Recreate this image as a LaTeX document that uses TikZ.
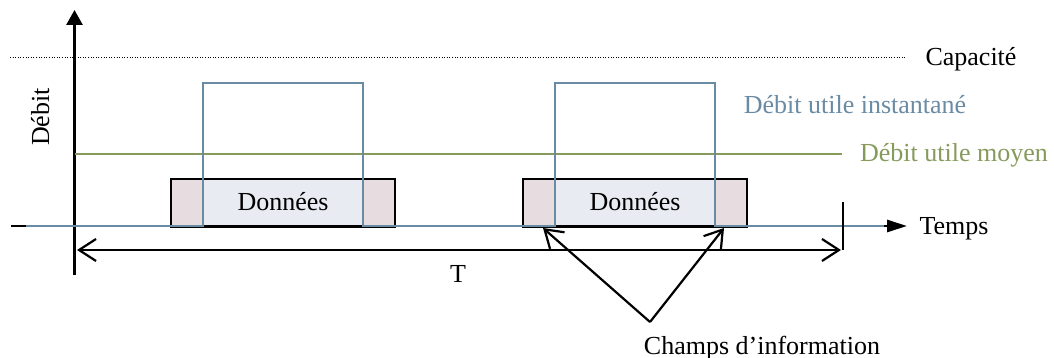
\documentclass[tikz,border=0pt]{standalone}
\usepackage{fontspec}
\setmainfont{Liberation Serif}
\usetikzlibrary{arrows.meta}
\definecolor{pulsec}{RGB}{106,139,164}
\definecolor{moyenc}{RGB}{134,154,92}
\definecolor{capfill}{RGB}{231,220,224}
\definecolor{datafill}{RGB}{232,236,242}
\begin{document}
\begin{tikzpicture}[x=1pt,y=-1pt,
  lbl/.style={font=\fontsize{26}{30}\selectfont, inner sep=0pt, anchor=base},
  axisline/.style={line width=2.8pt},
  openarrow/.style={line width=2.2pt, {Straight Barb[length=17pt,width=22pt,line width=2.2pt]}-{Straight Barb[length=17pt,width=22pt,line width=2.2pt]}},
  singlearrow/.style={line width=2.2pt, -{Straight Barb[length=17pt,width=22pt,line width=2.2pt]}},
  pulseline/.style={draw=pulsec, line width=2.8pt},
  boxborder/.style={draw=black, line width=2.2pt}]
\useasboundingbox (0,0) rectangle (1054,358);
% capacity
\coordinate (capL) at (10,58);
\coordinate (capR) at (906,58);
\draw[line width=1pt, dash pattern=on 1pt off 1.6pt] (capL) -- (capR);
\node[lbl] (cap) at (971,66) {Capacité};
% data boxes
\fill[capfill] (171,179) rectangle (395,227);
\fill[datafill] (203,179) rectangle (363,227);
\fill[capfill] (523,179) rectangle (747,227);
\fill[datafill] (555,179) rectangle (715,227);
\draw[boxborder] (171,179) rectangle (395,227);
\draw[boxborder] (523,179) rectangle (747,227);
\node[lbl] (d1) at (283,210) {Données};
\node[lbl] (d2) at (635,210) {Données};
% axes
\coordinate (yb) at (74.5,275);
\coordinate (yt) at (74.5,10);
\draw[axisline, -{Triangle[length=15pt,width=16pt]}] (yb) -- (yt);
\coordinate (xl) at (11,226);
\coordinate (xr) at (907,226);
\draw[axisline, -{Triangle[length=20pt,width=12pt]}] (xl) -- (xr);
\node[lbl] (temps) at (954,234) {Temps};
\node[lbl, rotate=90] (debit) at (49,117) {Débit};
% average
\coordinate (mL) at (75,154);
\coordinate (mR) at (842,154);
\draw[draw=moyenc, line width=2.8pt] (mL) -- (mR);
\node[lbl, text=moyenc] (moy) at (954,162) {Débit utile moyen};
% instantaneous
\draw[pulseline] (26,226) -- (203,226) -- (203,83) -- (363,83) -- (363,226)
  -- (555,226) -- (555,83) -- (715,83) -- (715,226) -- (884,226);
\node[lbl, text=pulsec] (inst) at (855,114) {Débit utile instantané};
% period
\coordinate (tick1) at (843,202);
\coordinate (tick2) at (843,250);
\draw[line width=1.8pt] (tick1) -- (tick2);
\coordinate (Tl) at (77,250);
\coordinate (Tr) at (841,250);
\draw[openarrow] (Tl) -- (Tr);
\node[lbl] (T) at (458,282) {T};
% information fields
\coordinate (apex) at (650,322);
\coordinate (f1) at (543,228);
\coordinate (f2) at (724,228);
\draw[singlearrow] (apex) -- (f1);
\draw[singlearrow] (apex) -- (f2);
\node[lbl] (champs) at (762,354) {Champs d’information};
\end{tikzpicture}
\end{document}
